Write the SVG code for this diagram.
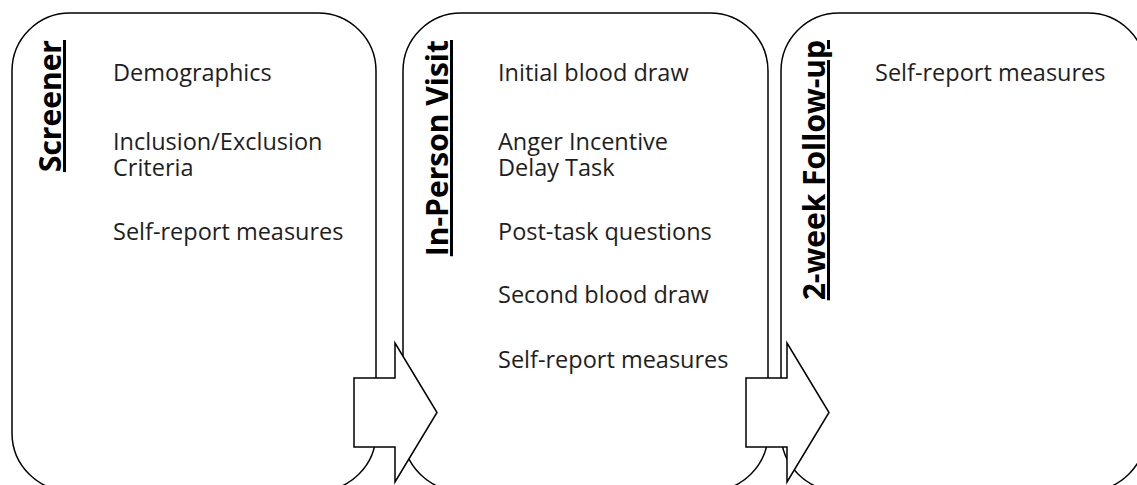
<svg xmlns="http://www.w3.org/2000/svg" width="1137" height="485" viewBox="0 0 1137 485">
  <style>
    .box { fill: #ffffff; stroke: #000000; stroke-width: 1.5; }
    .arrow { fill: #ffffff; stroke: #000000; stroke-width: 1.5; stroke-linejoin: miter; }
    .title { font-family: "Open Sans", "Liberation Sans", sans-serif; font-weight: bold; font-size: 30px; fill: #000000; text-decoration: underline; }
    .item { font-family: "Open Sans", "Liberation Sans", sans-serif; font-size: 23.5px; fill: #1e1e1e; }
  </style>
  <rect width="1137" height="485" fill="#ffffff"/>
  <g id="node-screener">
    <rect class="box" x="12" y="13" width="364" height="478" rx="58" ry="58"/>
    <text class="title" transform="translate(61,40) rotate(-90)" text-anchor="end">Screener</text>
    <text class="item" x="113" y="81">Demographics</text>
    <text class="item" x="113" y="150">Inclusion/Exclusion<tspan x="113" dy="26">Criteria</tspan></text>
    <text class="item" x="113" y="240">Self-report measures</text>
  </g>
  <g id="node-inperson">
    <rect class="box" x="403" y="13" width="365" height="478" rx="58" ry="58"/>
    <text class="title" transform="translate(448,40) rotate(-90)" text-anchor="end">In-Person Visit</text>
    <text class="item" x="498" y="81">Initial blood draw</text>
    <text class="item" x="498" y="150">Anger Incentive<tspan x="498" dy="26">Delay Task</tspan></text>
    <text class="item" x="498" y="240">Post-task questions</text>
    <text class="item" x="498" y="303">Second blood draw</text>
    <text class="item" x="498" y="368">Self-report measures</text>
  </g>
  <g id="node-followup">
    <rect class="box" x="781" y="13" width="365" height="478" rx="58" ry="58"/>
    <text class="title" transform="translate(825,40) rotate(-90)" text-anchor="end">2-week Follow-up</text>
    <text class="item" x="875" y="81">Self-report measures</text>
  </g>
  <g id="connectors">
    <polygon class="arrow" points="354,378 395,378 395,343 437,412.5 395,482 395,447 354,447"/>
    <polygon class="arrow" points="746,378 787,378 787,343 829,412.5 787,482 787,447 746,447"/>
  </g>
</svg>
